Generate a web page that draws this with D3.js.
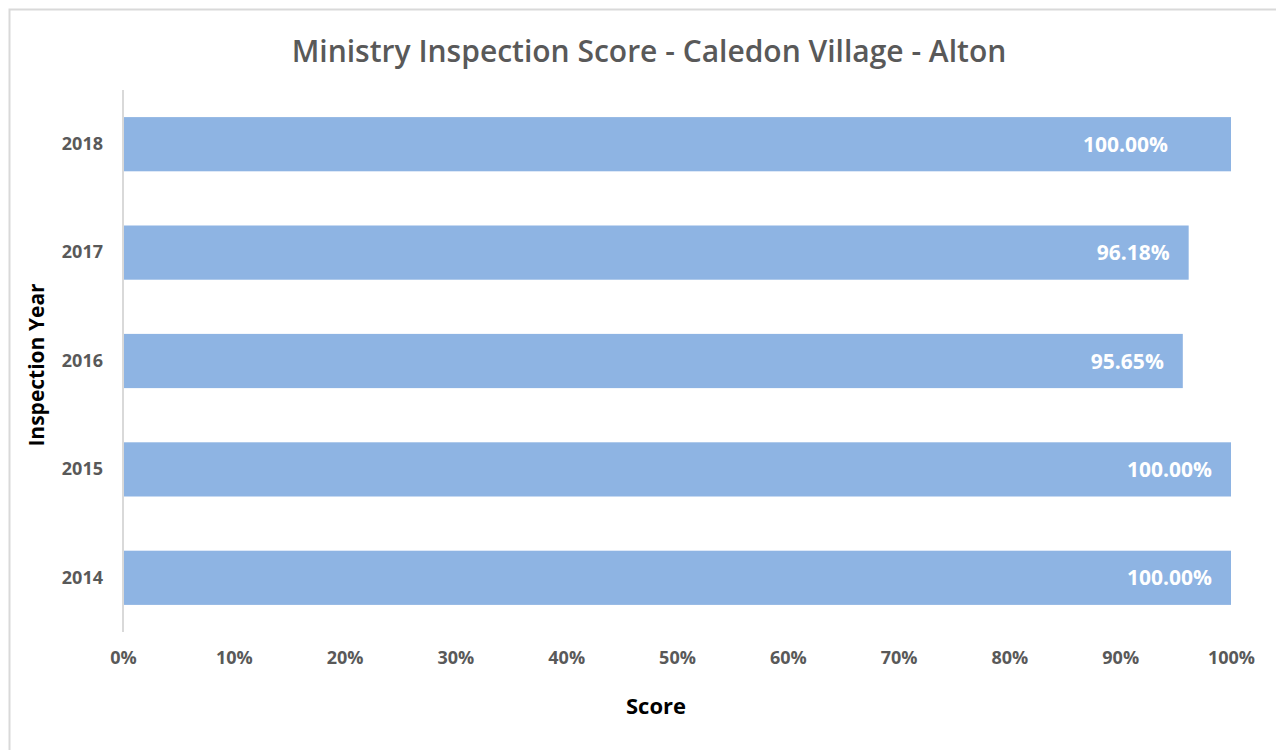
<!DOCTYPE html>
<html>
<head>
<meta charset="utf-8">
<script src="https://cdn.jsdelivr.net/npm/d3@7"></script>
<style>
    body { margin: 0; background: #fff; }
    svg { display: block; }
</style>
</head>
<body>
<svg id="chart" width="1276" height="750"></svg>
<script>
const years = ["2018", "2017", "2016", "2015", "2014"];
const scores = [1.0, 0.9618, 0.9565, 1.0, 1.0];
const xTicks = [0, 0.1, 0.2, 0.3, 0.4, 0.5, 0.6, 0.7, 0.8, 0.9, 1.0];

const chartTitle = "Ministry Inspection Score - Caledon Village - Alton";
const fontFamily = "'Open Sans', 'Noto Sans', sans-serif";
const textGrey = "#595959";
const barColor = "#8EB4E3";

const svg = d3.select("#chart");

// outer chart frame (runs off the right and bottom edges like the original)
svg.append("rect")
    .attr("x", 9.5).attr("y", 9.5)
    .attr("width", 1290).attr("height", 760)
    .attr("fill", "#fff")
    .attr("stroke", "#D9D9D9")
    .attr("stroke-width", 2);

const plot = { left: 123, right: 1231, top: 90, bottom: 632 };

const x = d3.scaleLinear().domain([0, 1]).range([plot.left, plot.right]);
const y = d3.scaleBand().domain(years).range([plot.top, plot.bottom]).paddingInner(0.5).paddingOuter(0.25);

svg.append("text")
    .attr("x", 649).attr("y", 62)
    .attr("text-anchor", "middle")
    .attr("font-family", fontFamily)
    .attr("font-size", "30px")
    .attr("font-weight", 600)
    .attr("fill", textGrey)
    .text(chartTitle);

// bars
svg.append("g").selectAll("rect")
    .data(years)
    .join("rect")
    .attr("x", x(0))
    .attr("y", d => y(d))
    .attr("width", (d, i) => x(scores[i]) - x(0))
    .attr("height", y.bandwidth())
    .attr("fill", barColor);

// value labels, inside end; the 2018 label was dragged left in the source chart
const labelShift = { "2018": 44 };
svg.append("g").selectAll("text")
    .data(years)
    .join("text")
    .attr("x", (d, i) => x(scores[i]) - 19 - (labelShift[d] || 0))
    .attr("y", d => y(d) + y.bandwidth() / 2)
    .attr("dy", "0.36em")
    .attr("text-anchor", "end")
    .attr("font-family", fontFamily)
    .attr("font-size", "21px")
    .attr("font-weight", 700)
    .attr("fill", "#fff")
    .text((d, i) => d3.format(".2%")(scores[i]));

// y axis
const yAxis = svg.append("g")
    .attr("transform", `translate(${plot.left},0)`)
    .call(d3.axisLeft(y).tickSize(0).tickPadding(20));
yAxis.select(".domain").attr("stroke", "#D9D9D9").attr("stroke-width", 2)
    .attr("d", `M0,${plot.top}V${plot.bottom}`);
yAxis.selectAll("text")
    .attr("font-family", fontFamily)
    .attr("font-size", "18px")
    .attr("font-weight", 700)
    .attr("fill", textGrey);

// x axis (labels only)
const xAxis = svg.append("g")
    .attr("transform", `translate(0,${plot.bottom})`)
    .call(d3.axisBottom(x).tickValues(xTicks).tickFormat(d3.format(".0%")).tickSize(0).tickPadding(19));
xAxis.select(".domain").remove();
xAxis.selectAll("text")
    .attr("font-family", fontFamily)
    .attr("font-size", "18px")
    .attr("font-weight", 700)
    .attr("fill", textGrey);

svg.append("text")
    .attr("x", 656).attr("y", 714)
    .attr("text-anchor", "middle")
    .attr("font-family", fontFamily)
    .attr("font-size", "22px")
    .attr("font-weight", 700)
    .attr("fill", "#000")
    .text("Score");

svg.append("text")
    .attr("transform", "translate(44,365) rotate(-90)")
    .attr("text-anchor", "middle")
    .attr("font-family", fontFamily)
    .attr("font-size", "21px")
    .attr("font-weight", 700)
    .attr("fill", "#000")
    .text("Inspection Year");
</script>
</body>
</html>
